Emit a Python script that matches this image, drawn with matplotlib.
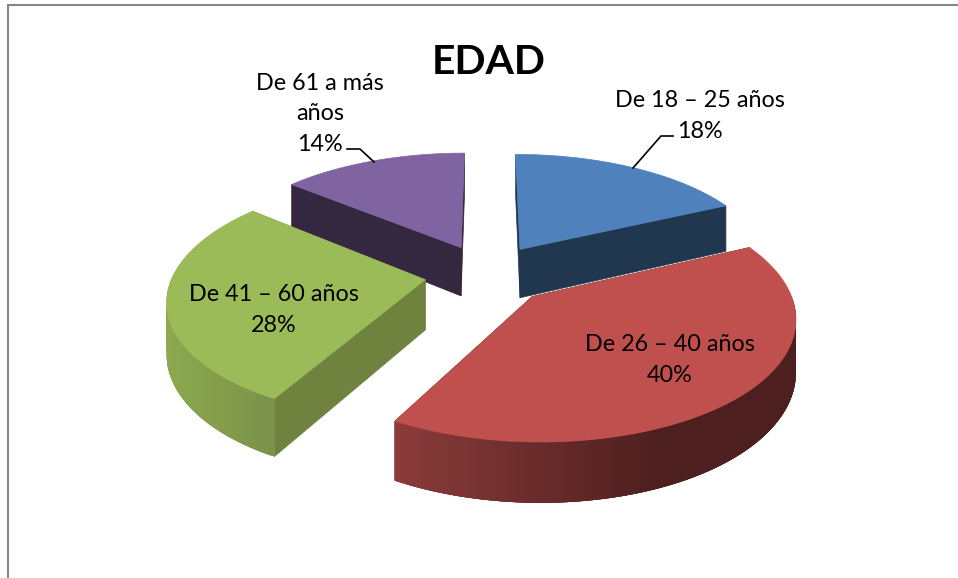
import matplotlib
matplotlib.use('Agg')
import matplotlib.pyplot as plt
from matplotlib.colors import to_rgb
from matplotlib.patches import Polygon
import numpy as np

title = 'EDAD'
category_l = ['De 18 – 25 años', 'De 26 – 40 años', 'De 41 – 60 años', 'De 61 a más\naños']
percent_l = [18, 40, 28, 14]

matplotlib.rcParams.update({'font.family': ['Lato', 'DejaVu Sans'], 'font.size': 16.8})

# projection of the pie plane to pixels
cx, cy = 488, 274
scale_x, scale_y = 252, 116
persp = 0.15
wall_h = 50
explode = 0.26

top_color_l = ['#4f81bd', '#c0504d', '#9bbb59', '#8064a2']
wall_color_l = ['#21374f', '#4d1f1f', '#6f833f', '#33283f']
# outer wall gradient, by pixel x
grad_m = {1: ([395, 520, 660, 795], ['#8b3c3a', '#6e2e2d', '#4d1f1f', '#4d1f1f']),
          2: ([167, 279], ['#8ca94f', '#7a9148'])}
nudge_l = [(-2, 0), (-2, 0), (2, 0), (0, 0)]
draw_order = [0, 3, 2, 1]
label_pos_l = [(700, 116), (670, 360), (274, 310), (320, 114)]
leader_m = {0: ([633, 661, 673], [168, 136, 136]), 3: ([374, 360, 347], [162, 149, 149])}


def project(x, y, nudge, drop=0.0):
    w = 1 / (1 + persp * y)
    return np.column_stack((cx + scale_x * x * w + nudge[0],
                            cy - scale_y * y * w + nudge[1] + drop * wall_h * w))


def draw_slice(ax, i, t0, t1):
    mid = (t0 + t1) / 2
    ax0, ay0 = explode * np.sin(mid), explode * np.cos(mid)
    nudge = nudge_l[i]
    t_l = np.linspace(t0, t1, 200)
    arc_x = ax0 + np.sin(t_l)
    arc_y = ay0 + np.cos(t_l)

    # the two straight walls
    for t in (t0, t1):
        ex, ey = ax0 + np.sin(t), ay0 + np.cos(t)
        xs, ys = np.array([ax0, ex]), np.array([ay0, ey])
        pts = np.vstack((project(xs, ys, nudge), project(xs, ys, nudge, 1)[::-1]))
        ax.add_patch(Polygon(pts, closed=True, fc=wall_color_l[i], ec=wall_color_l[i], lw=0.5))

    # outer wall, only the part facing the viewer
    # each strip runs under the next one so no seams show
    if i in grad_m:
        stops, colors = grad_m[i]
        rgb = np.array([to_rgb(c) for c in colors])
        upper = project(arc_x, arc_y, nudge)
        lower = project(arc_x, arc_y, nudge, 1)
        idx_l = [k for k in range(len(t_l) - 1) if np.pi / 2 < t_l[k] < 3 * np.pi / 2]
        if upper[idx_l[0], 0] < upper[idx_l[-1], 0]:
            idx_l = idx_l[::-1]
        step = 1 if idx_l[-1] > idx_l[0] else -1
        for k in idx_l:
            far = np.clip(k + 4 * step, 0, len(t_l) - 1)
            pts = np.vstack((upper[min(k, far):max(k, far) + 1],
                             lower[min(k, far):max(k, far) + 1][::-1]))
            col = [np.interp(upper[k, 0], stops, rgb[:, c]) for c in range(3)]
            ax.add_patch(Polygon(pts, closed=True, fc=col, ec='none'))

    # top face
    xs = np.concatenate(([ax0], arc_x))
    ys = np.concatenate(([ay0], arc_y))
    ax.add_patch(Polygon(project(xs, ys, nudge), closed=True, fc=top_color_l[i], ec=top_color_l[i], lw=0.5))


fig = plt.figure(figsize=(9.58, 5.78), dpi=100)
ax = fig.add_axes([0, 0, 1, 1])
ax.set_xlim(0, 958)
ax.set_ylim(578, 0)
ax.axis('off')

# chart frame, cut off by the screenshot on the right and bottom
ax.plot([8, 8, 958], [578, 5, 5], color='#868686', lw=1.5, solid_joinstyle='miter')

edge_l = np.concatenate(([0], np.cumsum(percent_l))) / sum(percent_l) * 2 * np.pi
for i in draw_order:
    draw_slice(ax, i, edge_l[i], edge_l[i + 1])

for i, (x_l, y_l) in leader_m.items():
    ax.plot(x_l, y_l, color='black', lw=1.2)

for i, (x, y) in enumerate(label_pos_l):
    ax.text(x, y, '{}\n{}%'.format(category_l[i], percent_l[i]), ha='center', va='center',
            color='black', linespacing=1.55)

ax.text(489, 62, title, ha='center', va='center', fontsize=29.4, fontweight='bold', color='black')

fig.savefig('out.png', dpi=100)
